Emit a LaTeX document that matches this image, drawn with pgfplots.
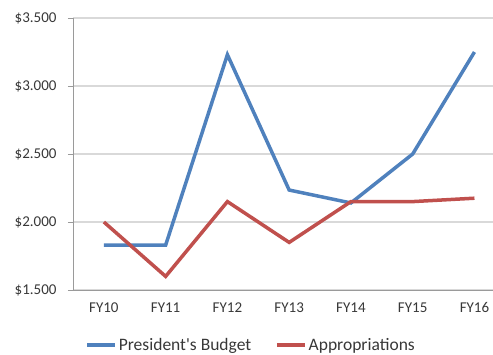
\documentclass[border=0pt]{standalone}
\usepackage{pgfplots}
\pgfplotsset{compat=1.18}
\usepackage{fontspec}
\setmainfont{Carlito}
\definecolor{pbblue}{HTML}{4F81BD}
\definecolor{apred}{HTML}{C0504D}
\definecolor{gridgray}{HTML}{D9D9D9}
\definecolor{axgray}{HTML}{9A9A9A}
\definecolor{txt}{HTML}{383838}
\begin{document}
\begin{tikzpicture}
\begin{axis}[
  at={(0,0)}, anchor=south west,
  scale only axis,
  width=420bp, height=272bp,
  xmin=-0.5, xmax=6.3,
  ymin=1.5, ymax=3.5,
  clip=false,
  axis x line*=bottom,
  axis y line*=left,
  axis line style={axgray, line width=0.8bp},
  xtick={0,1,2,3,4,5,6},
  xticklabels={FY10,FY11,FY12,FY13,FY14,FY15,FY16},
  major x tick style={draw=none},
  extra x ticks={-0.5,0.5,1.5,2.5,3.5,4.5,5.5},
  extra x tick labels={},
  extra x tick style={major tick length=5bp, tick style={axgray, line width=0.8bp}, tick align=outside, grid=none},
  ytick={1.5,2,2.5,3,3.5},
  yticklabels={\$1.500,\$2.000,\$2.500,\$3.000,\$3.500},
  ymajorgrids,
  major grid style={gridgray, line width=1.2bp},
  major y tick style={axgray, line width=0.8bp},
  tick align=outside,
  major tick length=5bp,
  ticklabel style={font=\fontsize{15bp}{18bp}\selectfont, text=txt},
  yticklabel style={xshift=-8bp},
  xticklabel style={yshift=-4bp},
  legend style={
    at={(0.424,-0.202)}, anchor=center,
    draw=none, fill=none,
    legend columns=2,
    font=\fontsize{17.5bp}{20bp}\selectfont,
    text=txt,
    /tikz/every even column/.append style={column sep=22bp},
    inner xsep=0pt, inner ysep=0pt,
  },
  legend image code/.code={\draw[#1, line width=3.5bp] (0bp,0bp) -- (28bp,0bp);},
  legend cell align=left,
]
\addplot[pbblue, line width=3.5bp] coordinates {
  (0,1.83) (1,1.83) (2,3.23) (3,2.235) (4,2.14) (5,2.50) (6,3.25)
};
\addlegendentry{President\textquotesingle s Budget}
\addplot[apred, line width=3.5bp] coordinates {
  (0,2.00) (1,1.60) (2,2.15) (3,1.85) (4,2.15) (5,2.15) (6,2.175)
};
\addlegendentry{Appropriations}
\end{axis}
\pgfresetboundingbox
\path (-73bp,-65bp) rectangle (420bp,290bp);
\end{tikzpicture}
\end{document}
